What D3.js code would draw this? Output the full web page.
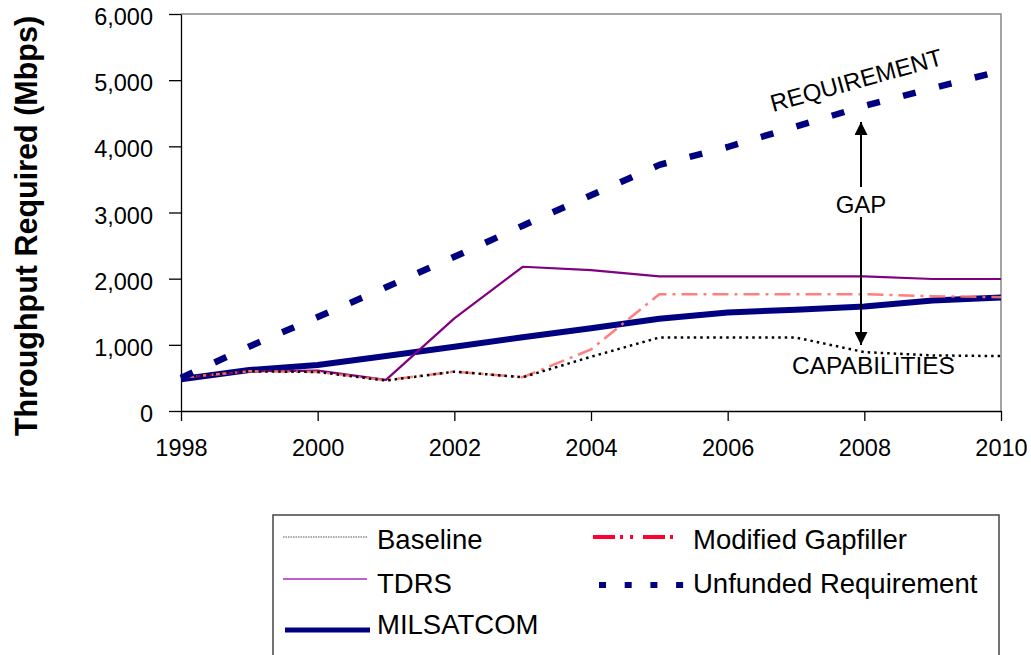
<!DOCTYPE html>
<html>
<head>
<meta charset="utf-8">
<script src="https://cdn.jsdelivr.net/npm/d3@7"></script>
<style>
  html, body { margin: 0; padding: 0; background: #fff; }
  svg { display: block; font-family: "Liberation Sans", Arial, sans-serif; }
</style>
</head>
<body>
<svg id="chart" width="1031" height="655"></svg>
<script>
// Throughput capability vs. requirement, 1998-2010 (Mbps)
const years = [1998, 1999, 2000, 2001, 2002, 2003, 2004, 2005, 2006, 2007, 2008, 2009, 2010];
const baseline    = [510, 600, 590, 460, 595, 510, 820, 1110, 1110, 1110, 890, 840, 830];
const tdrs        = [500, 600, 610, 470, 1400, 2180, 2130, 2035, 2035, 2035, 2035, 1995, 1995];
const milsatcom   = [480, 620, 695, 830, 970, 1115, 1250, 1395, 1490, 1530, 1580, 1670, 1715];
const gapfiller   = [505, 600, 590, 465, 595, 510, 930, 1765, 1765, 1765, 1765, 1735, 1720];
const requirement = [500, 975, 1420, 1870, 2330, 2800, 3260, 3720, 3990, 4300, 4610, 4880, 5140];

const yTicks = [0, 1000, 2000, 3000, 4000, 5000, 6000];
const xTicks = [1998, 2000, 2002, 2004, 2006, 2008, 2010];

const seriesNames = ["Baseline", "TDRS", "MILSATCOM", "Modified Gapfiller", "Unfunded Requirement"];
const seriesValues = [baseline, tdrs, milsatcom, gapfiller, requirement];

// Plot styling per series (index matches seriesNames)
const plotStyle = [
  { color: "#000000", width: 2.5, dash: "2.5,4", opacity: 1 },
  { color: "#800080", width: 2.2, dash: null, opacity: 1 },
  { color: "#000080", width: 6, dash: null, opacity: 1 },
  { color: "#ff7070", width: 2.5, dash: "16,6,3,6", opacity: 0.9 },
  { color: "#000080", width: 6.5, dash: "13,24", opacity: 1 }
];
// Legend sample styling
const legendStyle = [
  { color: "#555555", width: 1, dash: "1.5,1" },
  { color: "#c060d0", width: 2, dash: null },
  { color: "#000080", width: 5, dash: null },
  { color: "#ff0033", width: 4, dash: "22,5,3,7,3,10" },
  { color: "#000080", width: 6, dash: "7,18.7" }
];
const drawOrder = [2, 1, 3, 0, 4];

const svg = d3.select("#chart");
const plotLeft = 181, plotRight = 1001, plotTop = 14, plotBottom = 411;

const x = d3.scaleLinear().domain([1998, 2010]).range([plotLeft, plotRight]);
const y = d3.scaleLinear().domain([0, 6000]).range([plotBottom, plotTop]);

// Plot frame (top and right edges)
svg.append("path")
  .attr("d", `M${plotLeft},${plotTop}H${plotRight}V${plotBottom}`)
  .attr("fill", "none").attr("stroke", "#888").attr("stroke-width", 1.5);

// Axes
const yAxis = d3.axisLeft(y).tickValues(yTicks).tickSize(12).tickSizeOuter(0)
  .tickPadding(16).tickFormat(d3.format(","));
const xAxis = d3.axisBottom(x).tickValues(xTicks).tickSize(10).tickSizeOuter(0)
  .tickPadding(18).tickFormat(d3.format("d"));

const gy = svg.append("g").attr("transform", `translate(${plotLeft},0)`).call(yAxis);
const gx = svg.append("g").attr("transform", `translate(0,${plotBottom})`).call(xAxis);
[gx, gy].forEach(g => {
  g.selectAll("text").attr("font-size", 23.5).attr("fill", "#000")
    .attr("font-family", "Liberation Sans, Arial, sans-serif");
  g.selectAll("line").attr("stroke", "#000").attr("stroke-width", 1.3);
  g.select(".domain").attr("stroke", "#000").attr("stroke-width", 1.3);
});
gy.selectAll("text").attr("dy", "0.45em");

// Y axis title
svg.append("text")
  .attr("transform", "translate(37,226) rotate(-90)")
  .attr("text-anchor", "middle")
  .attr("font-size", 30.5).attr("font-weight", "bold")
  .text("Throughput Required (Mbps)");

// Series lines
const line = d3.line().x((d, i) => x(years[i])).y(d => y(d));
drawOrder.forEach(k => {
  const s = plotStyle[k];
  svg.append("path")
    .datum(seriesValues[k])
    .attr("d", line)
    .attr("fill", "none")
    .attr("stroke", s.color)
    .attr("stroke-width", s.width)
    .attr("stroke-opacity", s.opacity)
    .attr("stroke-dasharray", s.dash)
    .attr("stroke-linejoin", "round");
});

// Annotations: gap between requirement and capabilities
const defs = svg.append("defs");
defs.append("marker")
  .attr("id", "head").attr("viewBox", "0 0 10 10")
  .attr("refX", 10).attr("refY", 5)
  .attr("markerWidth", 13).attr("markerHeight", 13)
  .attr("markerUnits", "userSpaceOnUse")
  .attr("orient", "auto")
  .append("path").attr("d", "M0,0L10,5L0,10Z").attr("fill", "#000");

const gapX = 861;
svg.append("line").attr("x1", gapX).attr("x2", gapX).attr("y1", 187).attr("y2", 122)
  .attr("stroke", "#000").attr("stroke-width", 2).attr("marker-end", "url(#head)");
svg.append("line").attr("x1", gapX).attr("x2", gapX).attr("y1", 217).attr("y2", 345)
  .attr("stroke", "#000").attr("stroke-width", 2).attr("marker-end", "url(#head)");

svg.append("text").attr("x", gapX).attr("y", 213).attr("text-anchor", "middle")
  .attr("font-size", 24).text("GAP");
svg.append("text").attr("x", 792).attr("y", 374).attr("font-size", 24.5).text("CAPABILITIES");
svg.append("text").attr("transform", "translate(773,112) rotate(-15.5)")
  .attr("font-size", 24).text("REQUIREMENT");

// Legend
svg.append("rect").attr("x", 273).attr("y", 515).attr("width", 726).attr("height", 160)
  .attr("fill", "#fff").attr("stroke", "#444").attr("stroke-width", 1.5);

const legendPos = [
  { x1: 283, x2: 367, ly: 537, tx: 377, ty: 549 },
  { x1: 283, x2: 367, ly: 579, tx: 377, ty: 593 },
  { x1: 285, x2: 370, ly: 630, tx: 377, ty: 634 },
  { x1: 593, x2: 676, ly: 537, tx: 693, ty: 549 },
  { x1: 599, x2: 690, ly: 585, tx: 693, ty: 593 }
];
seriesNames.forEach((name, k) => {
  const p = legendPos[k], s = legendStyle[k];
  svg.append("line").attr("x1", p.x1).attr("x2", p.x2).attr("y1", p.ly).attr("y2", p.ly)
    .attr("stroke", s.color).attr("stroke-width", s.width).attr("stroke-dasharray", s.dash);
  svg.append("text").attr("x", p.tx).attr("y", p.ty).attr("font-size", 27.5).text(name);
});
</script>
</body>
</html>
